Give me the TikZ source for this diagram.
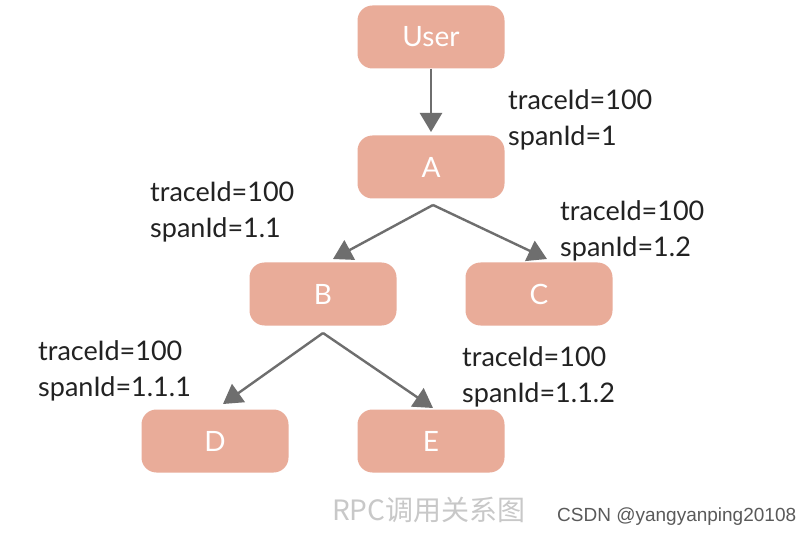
\documentclass[tikz,border=0pt]{standalone}
\usepackage{fontspec}
\setmainfont{Lato}
\newfontfamily\cjkfont{Noto Sans CJK SC}
\newfontfamily\wmfont{Liberation Sans}
\usetikzlibrary{arrows.meta}
\definecolor{boxfill}{HTML}{E9AC99}
\definecolor{arrowgray}{HTML}{6E6E6E}
\definecolor{captiongray}{HTML}{C8C8C8}
\definecolor{wmgray}{HTML}{5A5A5A}
\definecolor{labelink}{HTML}{222222}
\begin{document}
\begin{tikzpicture}[x=1pt,y=-1pt,
  svc/.style={fill=boxfill,draw=none,rounded corners=15pt,minimum width=147pt,minimum height=63pt,
    text=white,font=\fontsize{28}{30}\selectfont,inner sep=0pt},
  conn/.style={draw=arrowgray,line width=2.4pt,-{Triangle[width=22pt,length=19pt]}},
  lbl/.style={anchor=north west,align=left,text=labelink,font=\fontsize{27}{36}\selectfont,inner sep=0pt}]
\useasboundingbox (0,0) rectangle (811,537);
\fill[white] (0,0) rectangle (811,537);
\node[svc] (user) at (431,37) {User};
\node[svc] (a) at (431,167) {A};
\node[svc] (b) at (323,294) {B};
\node[svc] (c) at (539,294) {C};
\node[svc] (d) at (215,441) {D};
\node[svc] (e) at (431,441) {E};
\coordinate (ua) at (431,132);
\coordinate (bt) at (333,259);
\coordinate (ct) at (547,259);
\coordinate (dt) at (223,404);
\coordinate (et) at (433,408);
\coordinate (as) at (433,205);
\coordinate (bs) at (323,333);
\draw[conn] (user.south) -- (ua);
\draw[conn] (as) -- (bt);
\draw[conn] (as) -- (ct);
\draw[conn] (bs) -- (dt);
\draw[conn] (bs) -- (et);
\node[lbl] (la) at (508,89) {traceId=100\\spanId=1};
\node[lbl] (lb) at (150,181) {traceId=100\\spanId=1.1};
\node[lbl] (lc) at (560,200) {traceId=100\\spanId=1.2};
\node[lbl] (ld) at (38,340) {traceId=100\\spanId=1.1.1};
\node[lbl] (le) at (462,346) {traceId=100\\spanId=1.1.2};
\node[anchor=west,text=captiongray,font=\cjkfont\fontsize{28}{32}\selectfont,inner sep=0pt] (cap) at (332,510) {RPC调用关系图};
\node[anchor=west,text=wmgray,font=\wmfont\fontsize{19}{22}\selectfont,inner sep=0pt] (wm) at (557,517) {CSDN @yangyanping20108};
\end{tikzpicture}
\end{document}
